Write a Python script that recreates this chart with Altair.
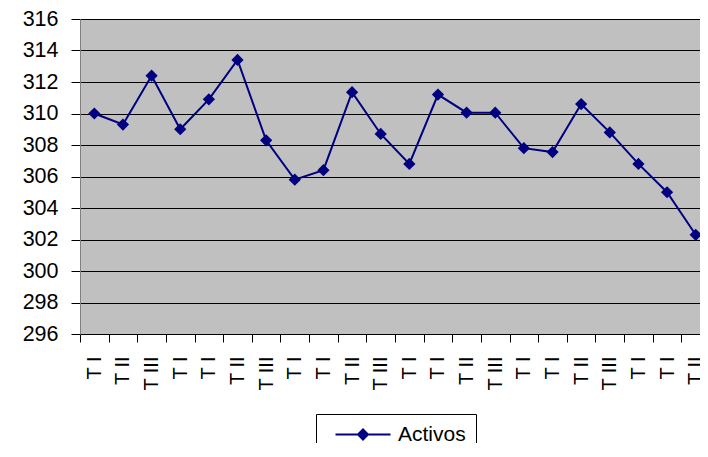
import altair as alt
import pandas as pd

# Data
labels = ["T I", "T II", "T III", "T I", "T I", "T II", "T III", "T I",
          "T I", "T II", "T III", "T I", "T I", "T II", "T III", "T I",
          "T I", "T II", "T III", "T I", "T I", "T II"]
values = [310.0, 309.3, 312.4, 309.0, 310.9, 313.4, 308.3, 305.8,
          306.4, 311.35, 308.7, 306.8, 311.2, 310.05, 310.05, 307.8,
          307.55, 310.6, 308.8, 306.8, 305.0, 302.3]
series = ["Activos"] * len(values)
y_ticks = list(range(296, 318, 2))

df = pd.DataFrame({
    "pos": [i + 0.5 for i in range(len(values))],
    "value": values,
    "serie": series,
})

lab_arr = "[" + ",".join("'" + l + "'" for l in labels) + "]"
x_vals = []
for i in range(len(labels)):
    x_vals += [i, i + 0.5]

FONT = "Liberation Sans"
NAVY = "#000080"

x_enc = alt.X(
    "pos:Q",
    scale=alt.Scale(domain=[0, 21.65], nice=False, zero=False),
    axis=alt.Axis(
        values=x_vals,
        title=None,
        grid=False,
        labelExpr=f"datum.value % 1 == 0 ? '' : {lab_arr}[floor(datum.value)]",
        labelAngle=270,
        labelAlign="right",
        labelBaseline="middle",
        labelFont=FONT,
        labelFontSize=20,
        labelColor="#000000",
        labelPadding=14,
        labelOverlap=False,
        labelFlush=False,
        labelBound=False,
        tickSize=8,
        tickColor="#000000",
        tickOpacity={"condition": {"test": "datum.value % 1 == 0", "value": 1}, "value": 0},
        domainColor="#000000",
        domainWidth=1,
    ),
)

y_enc = alt.Y(
    "value:Q",
    scale=alt.Scale(domain=[296, 316], nice=False, zero=False),
    axis=alt.Axis(
        values=y_ticks,
        title=None,
        grid=True,
        gridColor="#000000",
        gridWidth=1,
        labelFont=FONT,
        labelFontSize=21.5,
        labelColor="#000000",
        labelPadding=13,
        tickSize=9,
        tickColor="#000000",
        domainColor="#808080",
        domainWidth=1,
    ),
)

line = alt.Chart(df).mark_line(color=NAVY, strokeWidth=2, clip=True).encode(
    x=x_enc, y=y_enc
)

sym_path = "M-0.2,0L10.8,0M4.3,0L5.3,-1L6.3,0L5.3,1Z"

points = alt.Chart(df).mark_point(
    shape="diamond", filled=True, size=150, opacity=1, clip=False
).encode(
    x=x_enc,
    y=y_enc,
    color=alt.Color(
        "serie:N",
        scale=alt.Scale(range=[NAVY]),
        legend=alt.Legend(
            title=None,
            orient="none",
            legendX=236,
            legendY=395,
            padding=10,
            strokeColor="#000000",
            fillColor="#ffffff",
            labelFont=FONT,
            labelFontSize=21,
            labelColor="#000000",
            labelOffset=51,
            symbolType=sym_path,
            symbolSize=100,
            symbolStrokeColor=NAVY,
            symbolStrokeWidth=2,
            symbolFillColor=NAVY,
            symbolOpacity=1,
        ),
    ),
)

chart = alt.layer(line, points).properties(
    width=620,
    height=315,
    autosize=alt.AutoSizeParams(type="none"),
    padding={"left": 72, "top": 11, "right": 0, "bottom": 109},
    background="#ffffff",
).configure_view(fill="#C0C0C0", stroke=None)

chart.save("out.html", embed_options={"renderer": "svg", "actions": False})
